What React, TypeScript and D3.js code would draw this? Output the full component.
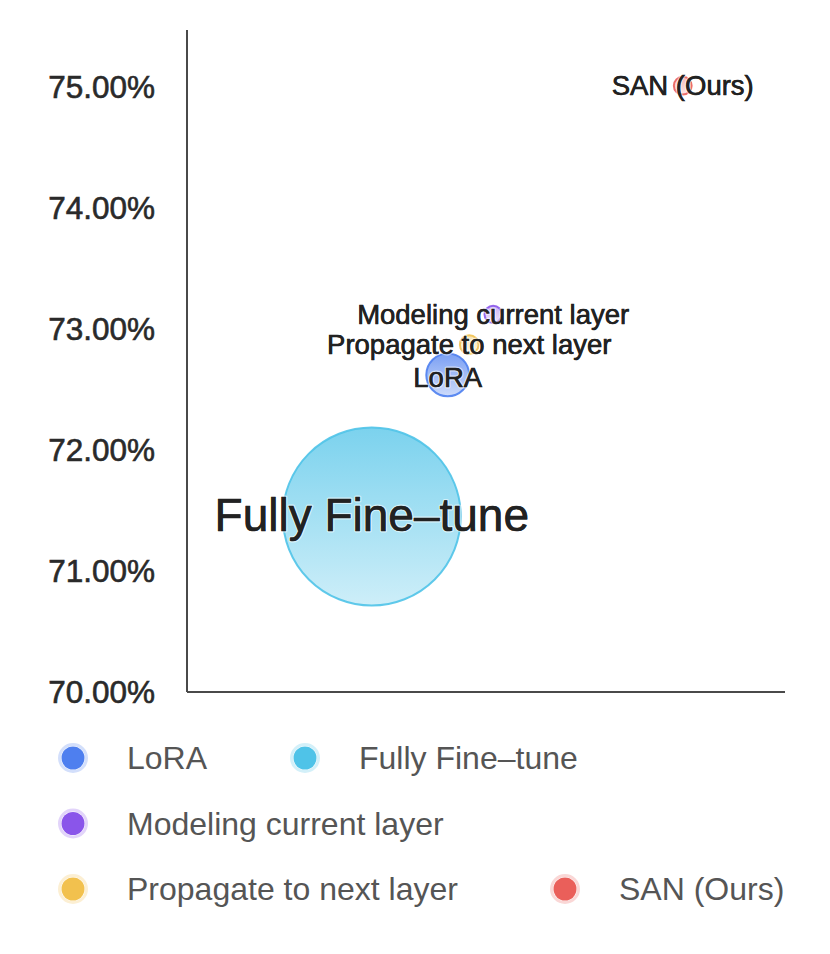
import React from "react";
import * as d3 from "d3";

const methods = ["Fully Fine-tune", "LoRA", "Propagate to next layer", "Modeling current layer", "SAN (Ours)"];
const labelTexts = ["Fully Fine–tune", "LoRA", "Propagate to next layer", "Modeling current layer", "SAN (Ours)"];
const costValues = [30.9, 43.6, 47.2, 51.2, 82.9];
const accuracyValues = [71.45, 72.62, 72.87, 73.12, 75.01];
const sizeValues = [100, 5.8, 1.1, 0.95, 1.0];
const methodColors = ["#4fc3e8", "#4e7fef", "#f2c14e", "#8a55ea", "#ea5f5a"];
const yTicks = [70, 71, 72, 73, 74, 75];
const legendRows = [
  ["LoRA", "Fully Fine–tune"],
  ["Modeling current layer"],
  ["Propagate to next layer", "SAN (Ours)"],
];
const legendColors: Record<string, string> = {
  "LoRA": "#4e7fef",
  "Fully Fine–tune": "#4fc3e8",
  "Modeling current layer": "#8a55ea",
  "Propagate to next layer": "#f2c14e",
  "SAN (Ours)": "#ea5f5a",
};

const W = 830;
const H = 954;
const left = 187;
const right = 785;
const top = 30;
const bottom = 692;

export default function App() {
  const x = d3.scaleLinear().domain([0, 100]).range([left, right]);
  const y = d3.scaleLinear().domain([70, 75.47]).range([bottom, top]);
  const r = d3.scaleSqrt().domain([0, 100]).range([0, 89]);
  const fmt = (v: number) => v.toFixed(2) + "%";
  const font = "'Liberation Sans', Arial, Helvetica, sans-serif";

  const data = methods.map((m, i) => ({
    name: m,
    label: labelTexts[i],
    x: costValues[i],
    y: accuracyValues[i],
    s: sizeValues[i],
    color: methodColors[i],
  }));

  const legendX = [73, 305];
  const legendSecondX = [73, 565];
  const legendY = d3.scalePoint<number>().domain([0, 1, 2]).range([758, 889]);

  return (
    <svg
      width={W}
      height={H}
      style={{ position: "absolute", left: 0, top: 0, background: "#fff" }}
      fontFamily={font}
    >
      <defs>
        {data.map((d, i) => (
          <linearGradient key={i} id={`g${i}`} x1="0" y1="0" x2="0" y2="1">
            <stop offset="0%" stopColor={d.color} stopOpacity={d.s > 3 ? 0.75 : 0.45} />
            <stop offset="100%" stopColor={d.color} stopOpacity={d.s > 3 ? 0.28 : 0.15} />
          </linearGradient>
        ))}
      </defs>

      {/* axes */}
      <line x1={left} x2={left} y1={top} y2={bottom} stroke="#4a4a4a" strokeWidth={2} />
      <line x1={left} x2={right} y1={bottom} y2={bottom} stroke="#4a4a4a" strokeWidth={2} />
      {yTicks.map((t) => (
        <text
          key={t}
          x={155}
          y={y(t)}
          textAnchor="end"
          dominantBaseline="central"
          fontSize={31.5}
          fill="#2a2a2a"
          stroke="#2a2a2a"
          strokeWidth={0.6}
        >
          {fmt(t)}
        </text>
      ))}

      {/* bubbles */}
      {data.map((d, i) => (
        <circle
          key={d.name}
          cx={x(d.x)}
          cy={y(d.y)}
          r={r(d.s)}
          fill={`url(#g${i})`}
          stroke={d.color}
          strokeOpacity={0.9}
          strokeWidth={2}
        />
      ))}
      {data.map((d) => (
        <text
          key={d.name + "-h"}
          x={x(d.x)}
          y={y(d.y) + (d.s > 50 ? -2 : d.s > 3 ? 3 : 0)}
          textAnchor="middle"
          dominantBaseline="central"
          fontSize={d.s > 50 ? 46 : 27.5}
          fill="#222"
          stroke="#fff"
          strokeWidth={3}
          strokeOpacity={0.55}
          strokeLinejoin="round"
          style={{ paintOrder: "stroke" }}
        >
          {d.label}
        </text>
      ))}
      {data.map((d) => (
        <text
          key={d.name + "-l"}
          x={x(d.x)}
          y={y(d.y) + (d.s > 50 ? -2 : d.s > 3 ? 3 : 0)}
          textAnchor="middle"
          dominantBaseline="central"
          fontSize={d.s > 50 ? 46 : 27.5}
          fill="#222"
          stroke="#222"
          strokeWidth={0.5}
        >
          {d.label}
        </text>
      ))}

      {/* legend */}
      {legendRows.map((row, ri) =>
        row.map((name, ci) => {
          const cx = ri === 2 ? legendSecondX[ci] : legendX[ci];
          const cy = legendY(ri) as number;
          const c = legendColors[name];
          return (
            <g key={name}>
              <circle cx={cx} cy={cy} r={13.5} fill="#fff" stroke={c} strokeOpacity={0.25} strokeWidth={3} />
              <circle cx={cx} cy={cy} r={11.5} fill={c} />
              <text
                x={cx + 54}
                y={cy}
                dominantBaseline="central"
                fontSize={32}
                fill="#555"
              >
                {name}
              </text>
            </g>
          );
        })
      )}
    </svg>
  );
}
